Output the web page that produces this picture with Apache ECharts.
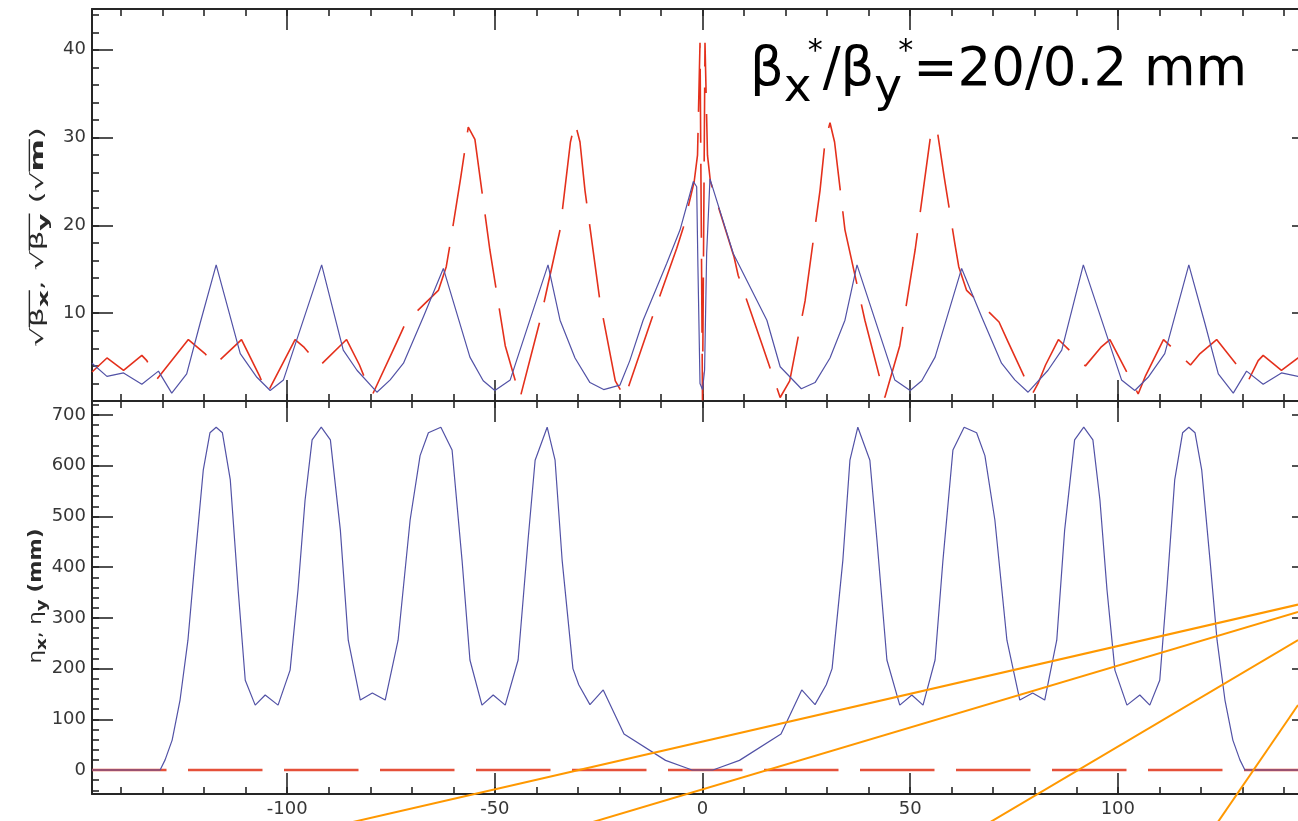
<!DOCTYPE html>
<html>
<head>
<meta charset="utf-8">
<script src="https://cdn.jsdelivr.net/npm/echarts@6/dist/echarts.min.js"></script>
<style>
  html, body { margin: 0; padding: 0; background: #fff; }
  #chart { width: 1298px; height: 821px; }
</style>
</head>
<body>
<div id="chart"></div>
<script>
// ---- Lattice functions along s (m) ----
// sqrt(beta_x) in sqrt(m)
const sBx = [-147, -143.4, -139.4, -135, -131, -127.8, -124.2, -121, -117.1, -111.3, -107.3, -104.1, -100.9,
  -91.7, -86.5, -83.2, -78.4, -75.2, -72, -67.2, -62.4, -56, -52.8, -50, -46.3, -37.2, -34.3, -30.7, -27.1,
  -23.8, -19.9, -17.5, -14.3, -8.6, -5.4, -2.2, -1.4, -1.1, -0.6, 0, 0.5, 1.0, 1.8, 7.4, 15.5, 18.7, 23.8,
  27.1, 30.7, 34.3, 37.2, 46.3, 50, 52.8, 56, 62.4, 67.2, 72, 75.2, 78.4, 83.2, 86.5, 91.7, 100.9, 104.1,
  107.3, 111.3, 117.1, 121, 124.2, 127.8, 131, 135, 139.4, 143.4, 147];
const sqrtBx = [4.3, 2.8, 3.2, 1.9, 3.4, 0.9, 3.1, 8.8, 15.5, 5.4, 2.7, 1.2, 2.4,
  15.5, 5.8, 3.5, 1.0, 2.4, 4.3, 9.6, 15.1, 5.0, 2.3, 1.2, 2.4, 15.5, 9.2, 4.9, 2.1,
  1.3, 1.8, 4.6, 9.2, 15.7, 19.5, 25.0, 24.4, 15.3, 2.0, 1.3, 3.5, 16.8, 25.3, 16.8, 9.2, 3.9, 1.4,
  2.1, 4.9, 9.2, 15.5, 2.4, 1.2, 2.3, 5.0, 15.1, 9.6, 4.3, 2.4, 1.0, 3.5, 5.8, 15.5, 2.4, 1.2,
  2.7, 5.4, 15.5, 8.8, 3.1, 0.9, 3.4, 1.9, 3.2, 2.8, 4.3];

// sqrt(beta_y) in sqrt(m)
const sBy = [-147, -143.4, -139.4, -135, -133.8, -131.5, -123.8, -119.8, -117.5, -111, -106.7, -104.9,
  -98.1, -95.9, -92.2, -85.7, -82.6, -80.8, -79.4, -73.6, -71.4, -63.6, -61.7, -60.8, -58.2, -56.4, -54.8,
  -51.2, -47.5, -43.9, -39.1, -34.3, -31.8, -30.7, -29.5, -28.3, -24.7, -21, -18.7, -12.2, -6.2, -4.6, -2,
  -1.2, -0.6, 0, 0.6, 1.2, 1.9, 7.6, 8.6, 14.3, 18.7, 21, 24.7, 28.3, 29.5, 30.7, 31.8, 34.3, 39.1, 43.9,
  47.5, 51.2, 54.8, 56.4, 58.2, 60.8, 61.7, 63.6, 71.4, 73.6, 79.4, 80.8, 82.6, 85.7, 92.2, 95.9, 98.1,
  104.9, 106.7, 111, 117.5, 119.8, 123.8, 131.5, 133.8, 135, 139.4, 143.4, 147];
const sqrtBy = [3.3, 4.9, 3.5, 5.2, 4.6, 2.4, 7.0, 5.4, 4.1, 7.0, 2.9, 0.8,
  7.0, 6.1, 4.0, 7.0, 4.1, 2.0, 0.8, 6.7, 9.0, 12.6, 15.3, 17.8, 25.5, 31.2, 29.8,
  17.2, 6.3, 0.4, 9.2, 19.5, 29.5, 31.7, 29.5, 24.0, 11.4, 2.3, 0.4, 9.4, 17.4, 19.8, 25.0,
  28.0, 40.8, 0.1, 40.8, 28.0, 25.0, 16.4, 14.3, 6.5, 0.4, 2.3, 11.4, 24.0, 29.5, 31.7, 29.5, 19.5, 9.2, 0.4,
  6.3, 17.2, 29.8, 31.2, 25.5, 17.8, 15.3, 12.6, 9.0, 6.7, 0.8, 2.0, 4.1, 7.0, 4.0, 6.1, 7.0,
  0.8, 2.9, 7.0, 4.1, 5.4, 7.0, 2.4, 4.6, 5.2, 3.5, 4.9, 3.3];

// horizontal dispersion eta_x in mm
const sEtaX = [-147, -130.6, -129.4, -127.7, -125.8, -123.9, -122.2, -120.2, -118.6, -117.1, -115.6, -113.7,
  -111.8, -110.1, -107.7, -105.3, -102.2, -99.3, -97.4, -95.7, -94, -91.8, -89.6, -87.2, -85.3, -82.4,
  -79.5, -76.4, -73.3, -70.4, -68, -66, -63, -60.3, -57.9, -56, -53.1, -50.4, -47.5, -44.4, -42, -40.3,
  -37.4, -35.5, -33.8, -31.2, -29.8, -27.1, -23.9, -18.9, -8.9, -3.5, -2.5,
  2.5, 3.5, 8.9, 18.9, 23.9, 27.1, 29.8, 31.2, 33.8, 35.5, 37.4, 40.3, 42, 44.4, 47.5, 50.4, 53.1, 56,
  57.9, 60.3, 63, 66, 68, 70.4, 73.3, 76.4, 79.5, 82.4, 85.3, 87.2, 89.6, 91.8, 94, 95.7, 97.4, 99.3,
  102.2, 105.3, 107.7, 110.1, 111.8, 113.7, 115.6, 117.1, 118.6, 120.2, 122.2, 123.9, 125.8, 127.7,
  129.4, 130.6, 147];
const etaX = [0, 0, 20, 59, 138, 256, 414, 592, 665, 676, 665, 572,
  355, 177, 128, 148, 128, 197, 355, 532, 651, 676, 651, 473, 256, 138,
  152, 138, 256, 493, 620, 665, 676, 631, 414, 217, 128, 148, 128, 217, 454, 611,
  676, 611, 414, 200, 168, 129, 158, 71, 19, 3, 0,
  0, 3, 19, 71, 158, 129, 168, 200, 414, 611, 676, 611, 454, 217, 128, 148, 128, 217,
  414, 631, 676, 665, 620, 493, 256, 138, 152, 138, 256, 473, 651, 676, 651, 532, 355, 197,
  128, 148, 128, 177, 355, 572, 665, 676, 665, 592, 414, 256, 138, 59,
  20, 0, 0];

// vertical dispersion eta_y in mm
const sEtaY = [-147, 147];
const etaY = [0, 0];

// straight orange lines, end points [s, value] on the dispersion panel
const guideA = [[-85.5, -105], [143.4, 326.2]];
const guideB = [[-27.4, -105], [143.4, 311.6]];
const guideC = [[68.8, -105], [143.4, 256.4]];
const guideD = [[123.9, -105], [143.4, 128.2]];

// tick positions
const sMajorTicks = [-100, -50, 0, 50, 100];
const sMinorTicks = [-140, -130, -120, -110, -100, -90, -80, -70, -60, -50, -40, -30, -20, -10, 0,
  10, 20, 30, 40, 50, 60, 70, 80, 90, 100, 110, 120, 130, 140];
const betaMajorTicks = [10, 20, 30, 40];
const betaMinorTicks = [2, 4, 6, 8, 10, 12, 14, 16, 18, 20, 22, 24, 26, 28, 30, 32, 34, 36, 38, 40, 42, 44];
const etaMajorTicks = [0, 100, 200, 300, 400, 500, 600, 700];
const etaMinorTicks = [-40, -20, 0, 20, 40, 60, 80, 100, 120, 140, 160, 180, 200, 220, 240, 260, 280, 300,
  320, 340, 360, 380, 400, 420, 440, 460, 480, 500, 520, 540, 560, 580, 600, 620, 640, 660, 680, 700, 720];

const FONT = '"DejaVu Sans", sans-serif';
const AXIS_COLOR = '#262626';
const LABEL_COLOR = '#363636';

function pairs(xs, ys) { return xs.map((x, i) => [x, ys[i]]); }

function tickStyle(len, customValues) {
  return { show: true, inside: true, length: len, customValues,
           lineStyle: { color: AXIS_COLOR, width: 1.6 } };
}
const labelStyle = { color: LABEL_COLOR, fontFamily: FONT, fontSize: 18 };

function sAxes(gridIndex, withLabels) {
  const base = {
    type: 'value', gridIndex, min: -147, max: 147, splitLine: { show: false },
    axisLine: { show: true, onZero: false, lineStyle: { color: AXIS_COLOR, width: 2 } }
  };
  return [
    Object.assign({}, base, { position: 'bottom', axisTick: tickStyle(21, sMajorTicks),
      axisLabel: withLabels ? Object.assign({ show: true, margin: 6, customValues: sMajorTicks }, labelStyle) : { show: false } }),
    Object.assign({}, base, { position: 'bottom', axisLine: { show: false, onZero: false },
      axisTick: tickStyle(7, sMinorTicks), axisLabel: { show: false } }),
    Object.assign({}, base, { position: 'top', axisTick: tickStyle(21, sMajorTicks), axisLabel: { show: false } }),
    Object.assign({}, base, { position: 'top', axisLine: { show: false, onZero: false },
      axisTick: tickStyle(7, sMinorTicks), axisLabel: { show: false } })
  ];
}

function valueAxes(gridIndex, min, max, major, minor) {
  const base = {
    type: 'value', gridIndex, min, max, splitLine: { show: false },
    axisLine: { show: true, onZero: false, lineStyle: { color: AXIS_COLOR, width: 2 } }
  };
  return [
    Object.assign({}, base, { position: 'left', axisTick: tickStyle(21, major),
      axisLabel: Object.assign({ show: true, margin: 6, customValues: major }, labelStyle) }),
    Object.assign({}, base, { position: 'left', axisLine: { show: false, onZero: false },
      axisTick: tickStyle(7, minor), axisLabel: { show: false } }),
    Object.assign({}, base, { position: 'right', axisTick: tickStyle(21, major), axisLabel: { show: false } }),
    Object.assign({}, base, { position: 'right', axisLine: { show: false, onZero: false },
      axisTick: tickStyle(7, minor), axisLabel: { show: false } })
  ];
}

// ---- text runs with sub/superscripts, laid out with measured widths ----
const measureCtx = document.createElement('canvas').getContext('2d');
function runWidth(r) {
  measureCtx.font = (r.bold ? 'bold ' : '') + r.size + 'px ' + FONT;
  return measureCtx.measureText(r.t).width;
}
function layoutRuns(runs, color) {
  let x = 0;
  const children = [];
  const spans = {};
  runs.forEach(r => {
    x += r.gap || 0;
    const w = runWidth(r);
    children.push({
      type: 'text', x, y: (r.dy || 0) - 0.34 * r.size,
      style: { text: r.t, font: (r.bold ? 'bold ' : '') + r.size + 'px ' + FONT, fill: color,
               align: 'left', verticalAlign: 'middle' }
    });
    if (r.bar) {
      const sp = spans[r.bar] || (spans[r.bar] = { x0: x, x1: x + w, y: r.barY });
      sp.x1 = x + w;
      if (r.barY !== undefined) sp.y = r.barY;
    }
    x += w;
  });
  Object.keys(spans).forEach(k => {
    const sp = spans[k];
    children.push({ type: 'line', shape: { x1: sp.x0, y1: sp.y, x2: sp.x1, y2: sp.y },
                    style: { stroke: color, lineWidth: 1.4 } });
  });
  return { children, width: x };
}

// vertical axis title: rotated, stretched to the given length, centred on cy
function verticalTitle(runs, baseX, cy, length) {
  const lay = layoutRuns(runs, '#2a2a2a');
  const k = length / lay.width;
  return { type: 'group', x: baseX, y: cy + length / 2, rotation: Math.PI / 2, scaleX: k,
           children: lay.children, silent: true };
}

const S = 17;
const topTitleRuns = [
  { t: '\u221A', size: S },
  { t: '\u03B2', size: S, bar: 'a', barY: -0.86 * S },
  { t: 'x', size: S * 0.85, bold: true, dy: 5, bar: 'a' },
  { t: ', ', size: S },
  { t: '\u221A', size: S },
  { t: '\u03B2', size: S, bar: 'b', barY: -0.86 * S },
  { t: 'y', size: S * 0.85, bold: true, dy: 5, bar: 'b' },
  { t: ' (', size: S },
  { t: '\u221A', size: S },
  { t: 'm', size: S, bold: true, bar: 'c', barY: -0.86 * S },
  { t: ')', size: S }
];
const bottomTitleRuns = [
  { t: '\u03B7', size: S },
  { t: 'x', size: S * 0.85, bold: true, dy: 5 },
  { t: ', ', size: S },
  { t: '\u03B7', size: S },
  { t: 'y', size: S * 0.85, bold: true, dy: 5 },
  { t: ' ', size: S },
  { t: '(mm)', size: S, bold: true }
];

const T = 53;
const headlineRuns = [
  { t: '\u03B2', size: T },
  { t: 'x', size: 47, dy: 16 },
  { t: '*', size: 30, dy: -27, gap: -4 },
  { t: '/\u03B2', size: T },
  { t: 'y', size: 47, dy: 16 },
  { t: '*', size: 30, dy: -27, gap: -4 },
  { t: '=20/0.2 mm', size: T }
];
const headline = layoutRuns(headlineRuns, '#000');

const option = {
  animation: false,
  backgroundColor: '#ffffff',
  grid: [
    { left: 92, top: 9, width: 1221, height: 392, outerBoundsMode: 'none', containLabel: false },
    { left: 92, top: 401, width: 1221, height: 393, outerBoundsMode: 'none', containLabel: false }
  ],
  xAxis: sAxes(0, false).concat(sAxes(1, true)),
  yAxis: valueAxes(0, 0, 44.65, betaMajorTicks, betaMinorTicks)
    .concat(valueAxes(1, -47.3, 727.7, etaMajorTicks, etaMinorTicks)),
  series: [
    { type: 'line', name: 'sqrt beta_y', xAxisIndex: 0, yAxisIndex: 0, data: pairs(sBy, sqrtBy),
      symbol: 'none', silent: true, z: 2,
      lineStyle: { color: '#e4301c', width: 1.6, type: [74, 21] } },
    { type: 'line', name: 'sqrt beta_x', xAxisIndex: 0, yAxisIndex: 0, data: pairs(sBx, sqrtBx),
      symbol: 'none', silent: true, z: 3,
      lineStyle: { color: '#5252a6', width: 1.2 } },
    { type: 'line', name: 'eta_y', xAxisIndex: 4, yAxisIndex: 4, data: pairs(sEtaY, etaY),
      symbol: 'none', silent: true, z: 2,
      lineStyle: { color: '#e5503a', width: 2.4, type: [74.5, 21.5] } },
    { type: 'line', name: 'eta_x', xAxisIndex: 4, yAxisIndex: 4, data: pairs(sEtaX, etaX),
      symbol: 'none', silent: true, z: 3,
      lineStyle: { color: '#5252a6', width: 1.2 } }
  ].concat([guideA, guideB, guideC, guideD].map(g => ({
      type: 'line', xAxisIndex: 4, yAxisIndex: 4, data: g, symbol: 'none', silent: true, z: 5,
      clip: false, lineStyle: { color: '#ff9800', width: 2 } }))),
  graphic: [
    { type: 'group', x: 750, y: 89, silent: true, children: headline.children },
    verticalTitle(topTitleRuns, 44, 237, 220),
    verticalTitle(bottomTitleRuns, 42, 596, 135)
  ]
};

const chart = echarts.init(document.getElementById('chart'), null, { renderer: 'canvas' });
chart.setOption(option);
</script>
</body>
</html>
